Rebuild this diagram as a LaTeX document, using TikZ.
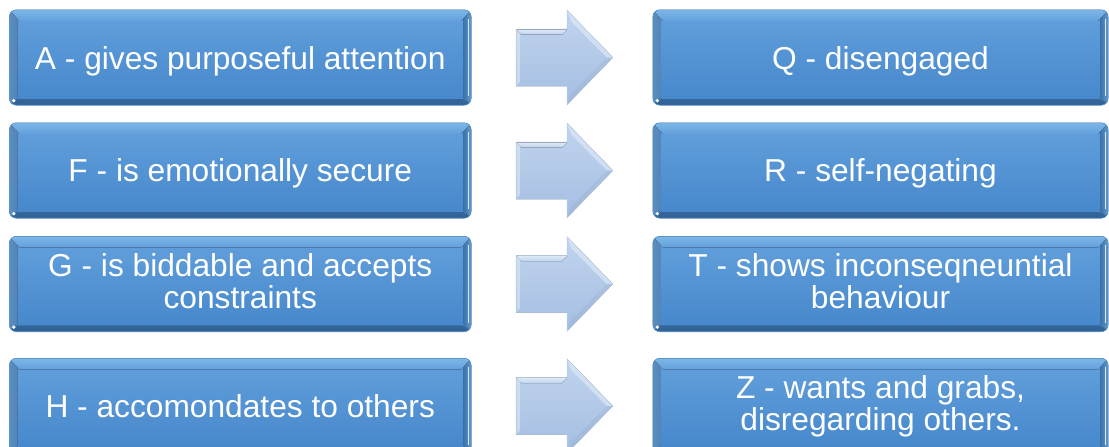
\documentclass[tikz,border=0pt]{standalone}
\usepackage{fontspec}
\setmainfont{Liberation Sans}
\usetikzlibrary{calc}
\definecolor{faceTop}{HTML}{63A0DC}
\definecolor{faceBot}{HTML}{4587CB}
\definecolor{bevEdge}{HTML}{7DB7E8}
\definecolor{bevLight}{HTML}{A9D8F8}
\definecolor{bevMid}{HTML}{6EAAE3}
\definecolor{bevRight}{HTML}{7FBBEE}
\definecolor{bevBot}{HTML}{3F7EC3}
\definecolor{edgeCol}{HTML}{5A94CF}
\definecolor{arrTop}{HTML}{C0D4EE}
\definecolor{arrBot}{HTML}{A5BEE1}
\definecolor{arrHi}{HTML}{DDE8F6}
\definecolor{arrLine}{HTML}{B8CCE8}
\tikzset{
  boxface/.style={rectangle, rounded corners=7pt, top color=faceTop, bottom color=faceBot, inner sep=0pt},
  boxtext/.style={text=white, font=\fontsize{31.7pt}{32pt}\selectfont, align=center, inner sep=0pt},
  fatarrow/.style={top color=arrTop, bottom color=arrBot, draw=arrLine, line width=0.5pt},
}
\newcommand\tst{\rule[-7pt]{0pt}{30pt}}
% name, cx, cy, w, h, yshift, text
\newcommand\bevbox[7]{%
  \node[boxface, minimum width=#4pt, minimum height=#5pt] (#1) at (#2,#3) {};
  \begin{scope}
    \clip[rounded corners=7pt] (#1.north west) rectangle (#1.south east);
    \fill[left color=bevMid, right color=faceTop, opacity=0.8] (#1.north west) -- ($(#1.north west)+(8,8)$) -- ($(#1.south west)+(8,-8)$) -- (#1.south west) -- cycle;
    \fill[left color=faceBot, right color=bevRight, opacity=0.8] (#1.north east) -- ($(#1.north east)+(-8,8)$) -- ($(#1.south east)+(-8,-8)$) -- (#1.south east) -- cycle;
    \fill[top color=faceBot, bottom color=bevBot, opacity=0.6] (#1.south west) -- ($(#1.south west)+(8,-6)$) -- ($(#1.south east)+(-8,-6)$) -- (#1.south east) -- cycle;
    \fill[top color=bevEdge, middle color=bevLight, bottom color=faceTop] (#1.north west) -- (#1.north east) -- ($(#1.north east)+(-10,11)$) -- ($(#1.north west)+(10,11)$) -- cycle;
    \draw[white, opacity=0.8, line width=1.1pt] ($(#1.north east)+(-2.5,9)$) -- ($(#1.south east)+(-2.5,-9)$);
    \fill[white] ($(#1.south west)+(4.5,-4.5)$) circle (1.8);
  \end{scope}
  \draw[edgeCol, line width=0.6pt, rounded corners=7pt] (#1.north west) rectangle (#1.south east);
  \node[boxtext, yshift=#6] (#1t) at (#1) {#7};
}
% from box, to box
\newcommand\fatarr[2]{%
  \fill[fatarrow] ($(#1.east)+(45,-28.5)$) -- ($(#1.east)+(96,-28.5)$) -- ($(#1.east)+(96,-47)$) -- ($(#2.west)+(-40,0)$) -- ($(#1.east)+(96,47)$) -- ($(#1.east)+(96,28.5)$) -- ($(#1.east)+(45,28.5)$) -- cycle;
  \fill[top color=arrHi, bottom color=arrTop] ($(#1.east)+(45.5,-28)$) -- ($(#1.east)+(96,-28)$) -- ($(#1.east)+(91,-23)$) -- ($(#1.east)+(50,-23)$) -- cycle;
  \fill[arrHi, opacity=0.7] ($(#1.east)+(96.5,-46)$) -- ($(#2.west)+(-40.5,0)$) -- ($(#2.west)+(-46,0)$) -- ($(#1.east)+(100,-36)$) -- cycle;
  \fill[arrBot!85!black, opacity=0.2] ($(#1.east)+(96.5,46)$) -- ($(#2.west)+(-40.5,0)$) -- ($(#2.west)+(-46,0)$) -- ($(#1.east)+(100,36)$) -- cycle;
  \fill[arrHi, opacity=0.6] ($(#1.east)+(45.5,-28)$) -- ($(#1.east)+(49,-24)$) -- ($(#1.east)+(49,24)$) -- ($(#1.east)+(45.5,28)$) -- cycle;
}
\begin{document}
\begin{tikzpicture}[x=1pt, y=-1pt]
  \useasboundingbox (0,0) rectangle (1109,447);
  \clip (0,0) rectangle (1109,447);
  \bevbox{a}{240.25}{57.5}{461.5}{95}{-3.5pt}{\tst A - gives purposeful attention}
  \bevbox{f}{240.25}{170.5}{461.5}{95}{-3pt}{\tst F - is emotionally secure}
  \bevbox{g}{240.25}{284}{461.5}{95}{0pt}{\tst G - is biddable and accepts\\\tst constraints}
  \bevbox{h}{240.25}{406}{461.5}{95}{-3pt}{\tst H - accomondates to others}
  \bevbox{q}{880.5}{57.5}{455}{95}{-3.5pt}{\tst Q - disengaged}
  \bevbox{r}{880.5}{170.5}{455}{95}{-3pt}{\tst R - self-negating}
  \bevbox{t}{880.5}{284}{455}{95}{0pt}{\tst T - shows inconseqneuntial\\\tst behaviour}
  \bevbox{z}{880.5}{406}{455}{95}{0pt}{\tst Z - wants and grabs,\\\tst disregarding others.}
  \fatarr{a}{q}
  \fatarr{f}{r}
  \fatarr{g}{t}
  \fatarr{h}{z}
\end{tikzpicture}
\end{document}
